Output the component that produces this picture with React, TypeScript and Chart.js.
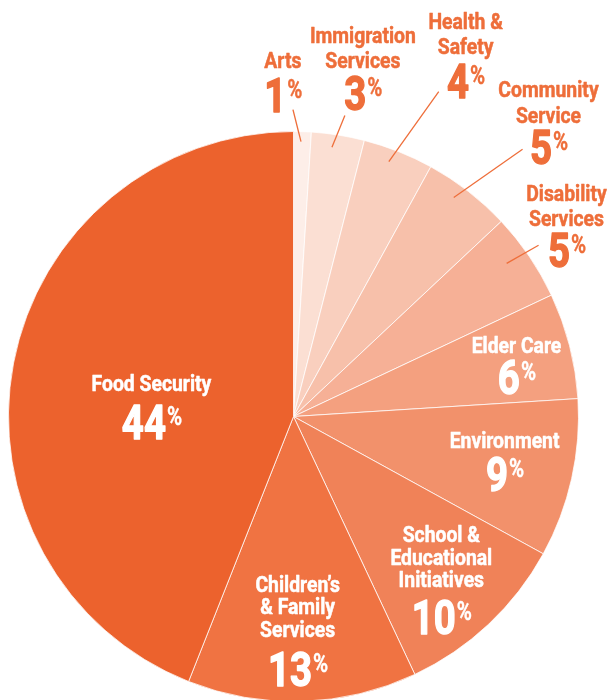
import { useEffect, useRef } from "react";
import { Chart, registerables } from "chart.js";

Chart.register(...registerables);

const categories = [
  "Arts",
  "Immigration Services",
  "Health & Safety",
  "Community Service",
  "Disability Services",
  "Elder Care",
  "Environment",
  "School & Educational Initiatives",
  "Children’s & Family Services",
  "Food Security",
];
const labelLines = [
  ["Arts"],
  ["Immigration", "Services"],
  ["Health &", "Safety"],
  ["Community", "Service"],
  ["Disability", "Services"],
  ["Elder Care"],
  ["Environment"],
  ["School &", "Educational", "Initiatives"],
  ["Children’s", "& Family", "Services"],
  ["Food Security"],
];
const shares = [1, 3, 4, 5, 5, 6, 9, 10, 13, 44];
const sliceColors = [
  "#FDEEE8",
  "#FBDFD3",
  "#F9CFBE",
  "#F7C0AA",
  "#F6B096",
  "#F4A07F",
  "#F2916B",
  "#F08258",
  "#F07342",
  "#EC622D",
];

// label placement (polar, relative to the arc centre / outer radius)
type Layout = {
  angle: number;
  r: number;
  outside: boolean;
  gap: number;
  lineH: number;
  leader?: [number, number][];
};
const labelLayout: Layout[] = [
  { angle: -1.8, r: 1.19, outside: true, gap: 25, lineH: 25, leader: [[-0.1, 1.077], [1.56, 0.965]] },
  { angle: 11.5, r: 1.221, outside: true, gap: 23, lineH: 25, leader: [[9.69, 1.071], [8.13, 0.954]] },
  { angle: 26.0, r: 1.378, outside: true, gap: 25, lineH: 25, leader: [[24.08, 1.249], [20.5, 0.955]] },
  { angle: 41.7, r: 1.345, outside: true, gap: 23, lineH: 26, leader: [[40.6, 1.235], [36.2, 0.952]] },
  { angle: 56.1, r: 1.154, outside: true, gap: 23, lineH: 25, leader: [[55.06, 1.049], [54.3, 0.921]] },
  { angle: 75.8, r: 0.807, outside: false, gap: 23, lineH: 23 },
  { angle: 100.8, r: 0.754, outside: false, gap: 24, lineH: 23 },
  { angle: 141.1, r: 0.826, outside: false, gap: 28, lineH: 22.5 },
  { angle: 179.0, r: 0.828, outside: false, gap: 31, lineH: 22.5 },
  { angle: 274.6, r: 0.5, outside: false, gap: 30, lineH: 23 },
];

const FONT = "Roboto, 'Liberation Sans', sans-serif";
const ORANGE = "#EE6E3A";

function scaledText(
  ctx: CanvasRenderingContext2D,
  text: string,
  x: number,
  y: number,
  font: string,
  sx: number,
  align: CanvasTextAlign,
  thick: number
) {
  ctx.save();
  ctx.font = font;
  ctx.textAlign = align;
  ctx.textBaseline = "alphabetic";
  ctx.translate(x, y);
  ctx.scale(sx, 1);
  ctx.fillText(text, 0, 0);
  if (thick > 0) {
    ctx.lineWidth = thick;
    ctx.lineJoin = "round";
    ctx.strokeStyle = ctx.fillStyle as string;
    ctx.strokeText(text, 0, 0);
  }
  ctx.restore();
}

const labelPlugin = {
  id: "sliceLabels",
  afterDatasetsDraw(chart: any) {
    const ctx: CanvasRenderingContext2D = chart.ctx;
    const meta = chart.getDatasetMeta(0);
    const nameFont = `bold 22px ${FONT}`;
    const numFont = `bold 48px ${FONT}`;
    const pctFont = `bold 25px ${FONT}`;
    const sxName = 0.88;
    const sxNum = 0.8;
    const sxPct = 0.82;
    meta.data.forEach((arc: any, i: number) => {
      const lay = labelLayout[i];
      const R = arc.outerRadius;
      const pol = (deg: number, f: number) => {
        const a = (deg * Math.PI) / 180;
        return [arc.x + Math.sin(a) * f * R, arc.y - Math.cos(a) * f * R];
      };
      const color = lay.outside ? ORANGE : "#FFFFFF";
      ctx.fillStyle = color;
      if (lay.leader) {
        const [p0, p1] = lay.leader.map(([d, f]) => pol(d, f));
        ctx.save();
        ctx.strokeStyle = ORANGE;
        ctx.lineWidth = 1.3;
        ctx.beginPath();
        ctx.moveTo(p0[0], p0[1]);
        ctx.lineTo(p1[0], p1[1]);
        ctx.stroke();
        ctx.restore();
      }
      const [cx, numTop] = pol(lay.angle, lay.r);
      const lines = labelLines[i];
      const n = lines.length;
      lines.forEach((ln, k) => {
        const top = numTop - lay.gap - (n - 1 - k) * lay.lineH;
        scaledText(ctx, ln, cx, top + 15.5, nameFont, sxName, "center", 0.5);
      });
      ctx.font = numFont;
      const digits = String(shares[i]);
      const wD = ctx.measureText(digits).width * sxNum;
      ctx.font = pctFont;
      const wP = ctx.measureText("%").width * sxPct;
      const start = cx - (wD + wP) / 2;
      scaledText(ctx, digits, start, numTop + 34, numFont, sxNum, "left", 1.4);
      scaledText(ctx, "%", start + wD + 1, numTop + 20, pctFont, sxPct, "left", 0.4);
    });
  },
};

export default function App() {
  const ref = useRef<HTMLCanvasElement | null>(null);
  useEffect(() => {
    if (!ref.current) return;
    const chart = new Chart(ref.current, {
      type: "pie",
      data: {
        labels: categories,
        datasets: [
          {
            data: shares,
            backgroundColor: sliceColors,
            borderColor: "rgba(255,255,255,0.75)",
            borderWidth: 1,
          },
        ],
      },
      options: {
        animation: false,
        responsive: false,
        devicePixelRatio: 1,
        layout: { padding: { left: 8, top: 131, right: 34, bottom: 8 } },
        plugins: {
          legend: { display: false },
          tooltip: { enabled: false },
        },
      },
      plugins: [labelPlugin],
    });
    return () => chart.destroy();
  }, []);
  return (
    <canvas
      ref={ref}
      width={613}
      height={710}
      style={{ position: "absolute", left: 0, top: 0, width: 613, height: 710 }}
    />
  );
}
